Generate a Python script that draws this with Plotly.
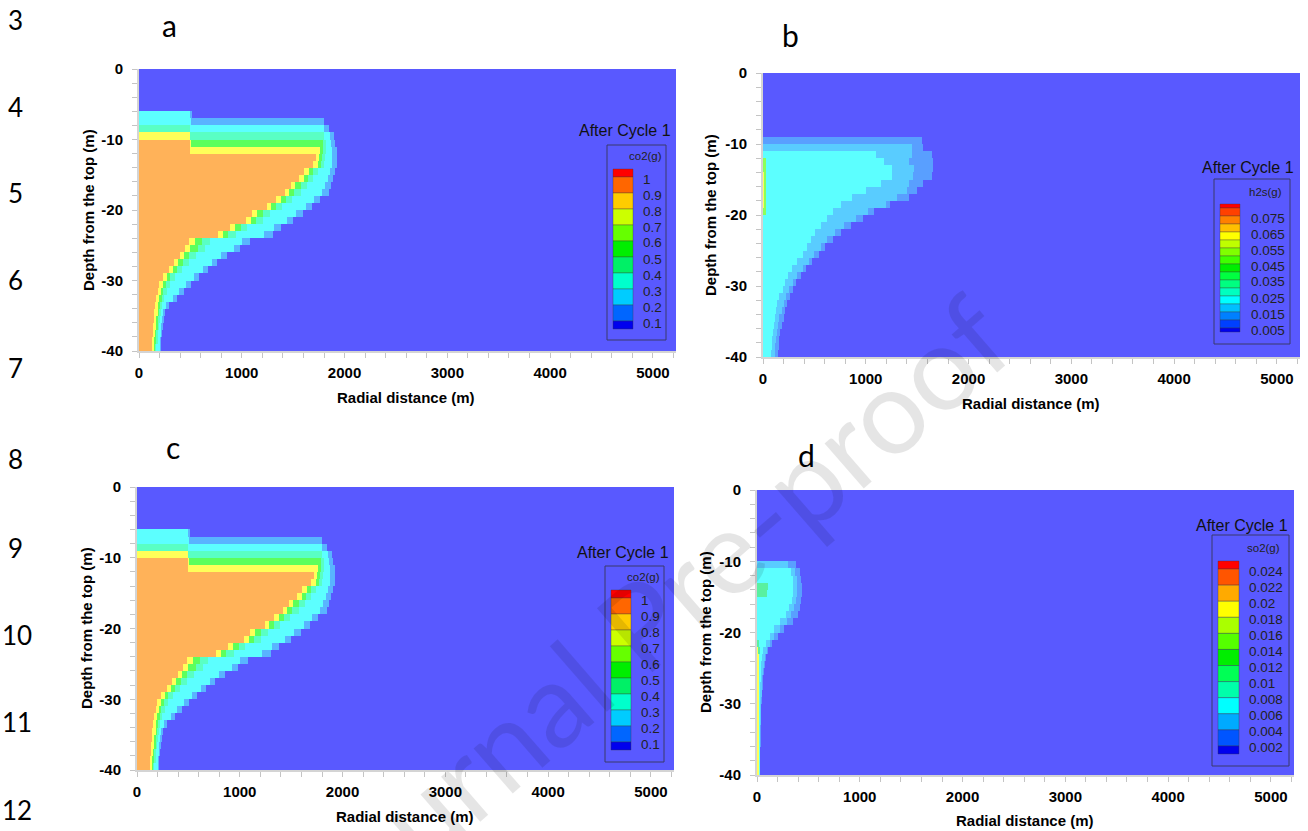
import numpy as np
import plotly.graph_objects as go

W, H = 1308, 831
FONT = "Liberation Sans, Arial, sans-serif"
NUM_FONT = "Lato, Open Sans, sans-serif"

# ---------------------------------------------------------------------------
# Radial extent (m) of each concentration band, one value per 1 m depth row
# (row i covers depth -i .. -(i+1) m).  Bands are nested: outermost first.
# ---------------------------------------------------------------------------
depth_rows = [-(i + 0.5) for i in range(40)]
radial_centres = np.arange(5, 5230, 10)

# co2(g), after cycle 1
co2_fringe = [0, 0, 0, 0, 0, 0, 520, 1800, 1850, 1900, 1910, 1920, 1920, 1920, 1910,
              1890, 1870, 1850, 1760, 1680, 1590, 1500, 1380, 1300, 1080, 980, 860, 760,
              670, 580, 510, 440, 370, 290, 255, 240, 230, 222, 215, 208]
co2_cyan = [0, 0, 0, 0, 0, 0, 500, 510, 1800, 1860, 1870, 1880, 1880, 1880, 1860,
            1840, 1810, 1780, 1700, 1620, 1530, 1440, 1310, 1220, 1000, 920, 800, 710,
            620, 530, 465, 395, 330, 260, 235, 222, 214, 208, 202, 197]
co2_aqua = [0, 0, 0, 0, 0, 0, 0, 0, 500, 1800, 1820, 1820, 1810, 1800, 1740,
            1690, 1630, 1570, 1490, 1390, 1270, 1210, 1050, 940, 690, 640, 550, 490,
            420, 350, 300, 270, 245, 222, 208, 198, 190, 183, 176, 170]
co2_green = [0, 0, 0, 0, 0, 0, 0, 0, 0, 500, 1790, 1790, 1780, 1770, 1690,
             1640, 1570, 1510, 1430, 1330, 1210, 1140, 990, 870, 610, 570, 490, 430,
             370, 300, 262, 235, 216, 202, 192, 185, 178, 172, 166, 160]
co2_yellow = [0, 0, 0, 0, 0, 0, 0, 0, 0, 500, 510, 1760, 1750, 1740, 1650,
              1600, 1520, 1460, 1380, 1280, 1150, 1090, 930, 820, 540, 500, 440, 380,
              330, 270, 230, 210, 195, 185, 178, 172, 166, 160, 155, 150]
co2_orange = [0, 0, 0, 0, 0, 0, 0, 0, 0, 0, 500, 500, 1720, 1690, 1600,
              1560, 1480, 1420, 1330, 1240, 1100, 1040, 880, 770, 490, 450, 400, 340,
              290, 230, 195, 180, 170, 160, 155, 150, 145, 140, 135, 130]

# h2s(g), after cycle 1
h2s_outer = [0] * 9 + [1550, 1560, 1640, 1650, 1650, 1640, 1560, 1500, 1420, 1230, 1080,
                       970, 860, 760, 680, 600, 540, 480, 420, 370, 320, 290, 260, 235,
                       215, 198, 185, 175, 165, 157, 150]
h2s_middle = [0] * 10 + [1450, 1450, 1420, 1470, 1460, 1420, 1400, 1300, 1200, 1020,
                         900, 790, 700, 620, 560, 500, 450, 390, 330, 290, 250, 225,
                         200, 180, 165, 150, 140, 130, 122, 117]
h2s_cyan = [0] * 11 + [1100, 1180, 1250, 1250, 1150, 1000, 870, 760, 680, 620, 560,
                       510, 470, 430, 390, 330, 280, 245, 210, 190, 165, 145, 130, 118,
                       108, 100, 95, 90, 85]
h2s_green = [0] * 12 + [30] * 8 + [0] * 20
h2s_yellow = [0] * 14 + [15] * 5 + [0] * 21

# so2(g), after cycle 1
so2_outer = [0] * 10 + [380, 420, 435, 440, 436, 430, 420, 400, 350, 260, 200, 150,
                        115, 95, 80, 70, 62, 56, 52, 47, 44, 42, 40, 38, 37, 36, 35,
                        34, 33, 32]
so2_middle = [0] * 10 + [300, 370, 390, 395, 390, 380, 360, 330, 290, 220, 170, 130,
                         100, 80, 68, 60, 54, 50, 46, 42, 38, 37, 36, 35, 34, 33, 32,
                         31, 30, 30]
so2_cyan = [0] * 11 + [330, 350, 355, 352, 340, 310, 280, 220, 170, 130, 95, 65, 50,
                       42, 38, 36, 34, 33, 32, 31, 30, 30, 30, 29, 29, 28, 28, 28, 28]
so2_green = [0] * 13 + [110, 100] + [0] * 6 + [25, 28, 25, 22] + [0] * 15
so2_yellow = [0] * 22 + [12, 20, 22, 22, 21, 20, 20, 19, 19, 18, 18, 18, 18, 18, 18, 18, 18, 18]

# legend levels
co2_levels = ["1", "0.9", "0.8", "0.7", "0.6", "0.5", "0.4", "0.3", "0.2", "0.1"]
h2s_levels = ["0.075", "0.065", "0.055", "0.045", "0.035", "0.025", "0.015", "0.005"]
so2_levels = ["0.024", "0.022", "0.02", "0.018", "0.016", "0.014", "0.012", "0.01",
              "0.008", "0.006", "0.004", "0.002"]

# legend palettes (top = highest)
co2_palette = ["#ff0000", "#ff6600", "#ffcc00", "#ccff00", "#66ff00", "#00ee00",
               "#00f066", "#00ffcc", "#00ccff", "#0066ff", "#0000ee"]
h2s_palette = ["#ff0000", "#ff4000", "#ff8000", "#ffbf00", "#ffff00", "#bfff00",
               "#80ff00", "#40ff00", "#00ee00", "#00ff40", "#00ff80", "#00ffbf",
               "#00ffff", "#00bfff", "#0080ff", "#0040ff", "#0000ee"]
so2_palette = ["#ff0000", "#ff5500", "#ffaa00", "#ffff00", "#aaff00", "#55ff00",
               "#00ee00", "#00ff55", "#00ffaa", "#00ffff", "#00aaff", "#0055ff", "#0000ee"]

BG = "#5959ff"


def fx(px):
    return px / W


def fy(py):
    return 1 - py / H


def band_grid(bands):
    z = np.zeros((len(depth_rows), len(radial_centres)))
    for k, radii in enumerate(bands, start=1):
        for i, r in enumerate(radii):
            z[i, radial_centres < r] = k
    return z


def stepped(colors):
    n = len(colors)
    cs = []
    for k, c in enumerate(colors):
        cs.append([k / n, c])
        cs.append([(k + 1) / n, c])
    return cs


panels = [
    dict(ax="", bands=[co2_fringe, co2_cyan, co2_aqua, co2_green, co2_yellow, co2_orange],
         colors=[BG, "#59b4ff", "#5cffff", "#59ffc4", "#5cff5c", "#ffff59", "#ffb259"],
         dom=(139, 676, 69, 351)),
    dict(ax="2", bands=[h2s_outer, h2s_middle, h2s_cyan, h2s_green, h2s_yellow],
         colors=[BG, "#599fff", "#59ccff", "#5cffff", "#8cff59", "#ffff59"],
         dom=(763, 1300, 73, 357)),
    dict(ax="3", bands=[co2_fringe, co2_cyan, co2_aqua, co2_green, co2_yellow, co2_orange],
         colors=[BG, "#59b4ff", "#5cffff", "#59ffc4", "#5cff5c", "#ffff59", "#ffb259"],
         dom=(137, 674, 487, 770)),
    dict(ax="4", bands=[so2_outer, so2_middle, so2_cyan, so2_green, so2_yellow],
         colors=[BG, "#599fff", "#59ccff", "#5cffff", "#59f0a0", "#ffff59"],
         dom=(757, 1294, 490, 775)),
]

fig = go.Figure()
layout = dict(width=W, height=H, margin=dict(l=0, r=0, t=0, b=0, autoexpand=False),
              paper_bgcolor="white", plot_bgcolor=BG, showlegend=False)

tick_font = dict(family=FONT, size=15, color="black", weight="bold")
x_tick_vals = [0, 1000, 2000, 3000, 4000, 5000]
x_tick_text = ["0", "1000", "2000", "3000", "4000", "5000"]
y_tick_vals = [0, -10, -20, -30, -40]
y_tick_text = ["0", "-10", "-20", "-30", "-40"]

for p in panels:
    z = band_grid(p["bands"])
    n = len(p["colors"])
    fig.add_trace(go.Heatmap(
        x=radial_centres, y=depth_rows, z=z, zmin=-0.5, zmax=n - 0.5,
        colorscale=stepped(p["colors"]), showscale=False, hoverinfo="skip",
        xaxis="x" + p["ax"], yaxis="y" + p["ax"]))
    x0, x1, y0, y1 = p["dom"]
    layout["xaxis" + p["ax"]] = dict(
        domain=[fx(x0), fx(x1)], range=[0, 5225], anchor="y" + p["ax"], automargin=False,
        tickmode="array", tickvals=x_tick_vals, ticktext=x_tick_text,
        ticks="outside", ticklen=5, tickcolor="#c4c4c4", tickwidth=1,
        minor=dict(tickmode="linear", tick0=0, dtick=200, ticks="outside", ticklen=5,
                   tickcolor="#c4c4c4", tickwidth=1),
        showline=True, linecolor="#d4d4d4", linewidth=2, showgrid=False, zeroline=False,
        tickfont=tick_font, ticklabelstandoff=2)
    layout["yaxis" + p["ax"]] = dict(
        domain=[fy(y1), fy(y0)], range=[-40, 0], anchor="x" + p["ax"], automargin=False,
        tickmode="array", tickvals=y_tick_vals, ticktext=y_tick_text,
        ticks="outside", ticklen=5, tickcolor="#c4c4c4", tickwidth=1,
        minor=dict(tickmode="linear", tick0=0, dtick=2, ticks="outside", ticklen=5,
                   tickcolor="#c4c4c4", tickwidth=1),
        showline=True, linecolor="#d4d4d4", linewidth=2, showgrid=False, zeroline=False,
        tickfont=tick_font, ticklabelstandoff=6)

annotations = []
shapes = []


def text(px, py, s, size, family=FONT, xanchor="center", yanchor="middle", angle=0,
         color="black", weight="normal"):
    annotations.append(dict(
        x=fx(px), y=fy(py), xref="paper", yref="paper", text=s, showarrow=False,
        xanchor=xanchor, yanchor=yanchor, textangle=angle,
        font=dict(family=family, size=size, color=color, weight=weight)))


# axis titles
axis_titles = [(406, 397, 88, 210), (1031, 404, 710, 215), (405, 816, 86, 628), (1025, 820, 705, 632)]
for xt, yt, xy, yy in axis_titles:
    text(xt, yt, "Radial distance (m)", 15, weight="bold")
    text(xy, yy, "Depth from the top (m)", 15, angle=-90, weight="bold")

# panel letters
for s, px, py in [("a", 170, 25), ("b", 791, 35), ("c", 173, 447), ("d", 806, 455)]:
    text(px, py, s, 30, family=NUM_FONT)

# line numbers down the left margin
line_numbers = ["3", "4", "5", "6", "7", "8", "9", "10", "11", "12"]
line_number_y = [20, 107, 193, 280, 368, 459, 548, 635, 722, 810]
for s, py in zip(line_numbers, line_number_y):
    if len(s) == 1:
        text(15, py, s, 26, family=NUM_FONT)
    else:
        text(0, py, s, 26, family=NUM_FONT, xanchor="left")


def contour_legend(name, levels, palette, title_xy, box, sw, lab_x, name_xy, label_every=1):
    text(title_xy[0], title_xy[1], "After Cycle 1", 16, xanchor="right", color="#111111")
    bx0, by0, bx1, by1 = box
    shapes.append(dict(type="rect", xref="paper", yref="paper",
                       x0=fx(bx0), x1=fx(bx1), y0=fy(by1), y1=fy(by0),
                       line=dict(color="#3a3a6a", width=1), fillcolor="rgba(0,0,0,0)"))
    text(name_xy[0], name_xy[1], name, 11.5, color="#222222")
    sx0, sx1, sy0, sy1 = sw
    n = len(palette)
    h = (sy1 - sy0) / (n - 1)
    edges = [sy0] + [sy0 + h / 2 + j * h for j in range(n - 1)] + [sy1]
    for k, c in enumerate(palette):
        shapes.append(dict(type="rect", xref="paper", yref="paper",
                           x0=fx(sx0), x1=fx(sx1), y0=fy(edges[k + 1]), y1=fy(edges[k]),
                           line=dict(color="rgba(60,60,60,0.6)", width=0.6), fillcolor=c))
    for j, lab in enumerate(levels):
        b = edges[1 + j * label_every + (label_every - 1)]
        text(lab_x, b + 2, lab, 13.5, xanchor="left", color="#222222")


contour_legend("co2(g)", co2_levels, co2_palette, (673, 131), (607, 145, 666, 340),
               (613, 633, 169, 329), 641, (645, 156))
contour_legend("h2s(g)", h2s_levels, h2s_palette, (1296, 167), (1214, 179, 1290, 344),
               (1220, 1240, 204, 332), 1249, (1265, 192), label_every=2)
contour_legend("co2(g)", co2_levels, co2_palette, (671, 552), (605, 566, 664, 762),
               (611, 631, 590, 750), 639, (643, 577))
contour_legend("so2(g)", so2_levels, so2_palette, (1290, 525), (1212, 535, 1289, 766),
               (1218, 1239, 561, 754), 1247, (1263, 548))

# watermark
annotations.append(dict(
    x=fx(648), y=fy(615), xref="paper", yref="paper", text="Journal Pre-proof",
    showarrow=False, textangle=-41, xanchor="center", yanchor="middle",
    font=dict(family=NUM_FONT, size=118, color="rgba(0,0,0,0.10)")))

layout["annotations"] = annotations
layout["shapes"] = shapes
fig.update_layout(**layout)
fig.write_html("out.html")
